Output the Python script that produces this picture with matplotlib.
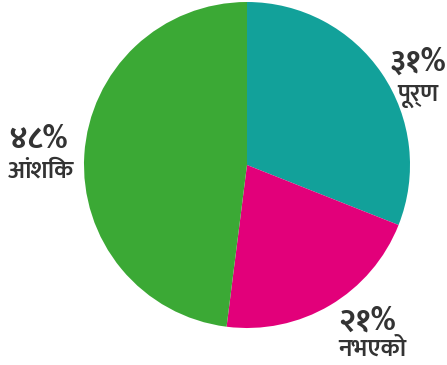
import matplotlib
matplotlib.use("Agg")
import matplotlib.pyplot as plt

labels = ["पूर्ण", "नभएको", "आंशिक"]
pct_labels = ["३१%", "२१%", "४८%"]
values = [31, 21, 48]
colors = ["#12A19A", "#E2007A", "#3BA935"]

families = ["Mukta", "DejaVu Sans"]

W, H = 447, 365
cx, cy, r = 247, 165, 163
fig = plt.figure(figsize=(W / 100, H / 100), dpi=100)
ax = fig.add_axes([0, 0, 1, 1])

ax.pie(values, colors=colors, startangle=90, counterclock=False, radius=1,
       wedgeprops=dict(linewidth=0))
ax.set_xlim(-cx / r, (W - cx) / r)
ax.set_ylim(-(H - cy) / r, cy / r)
ax.set_aspect("equal")
ax.axis("off")

def px(x, y):
    return ((x - cx) / r, (cy - y) / r)

pos_pct = [(418, 63), (367, 322), (38, 140)]
pos_lab = [(418, 96), (372, 350), (41, 172)]
for i in range(3):
    ax.text(*px(*pos_pct[i]), pct_labels[i], ha="center", va="center",
            fontsize=22.5, fontweight="bold", color="#333333", family=families)
    ax.text(*px(*pos_lab[i]), labels[i], ha="center", va="center",
            fontsize=18, fontweight="semibold", color="#333333", family=families)

fig.savefig("out.png", dpi=100)
